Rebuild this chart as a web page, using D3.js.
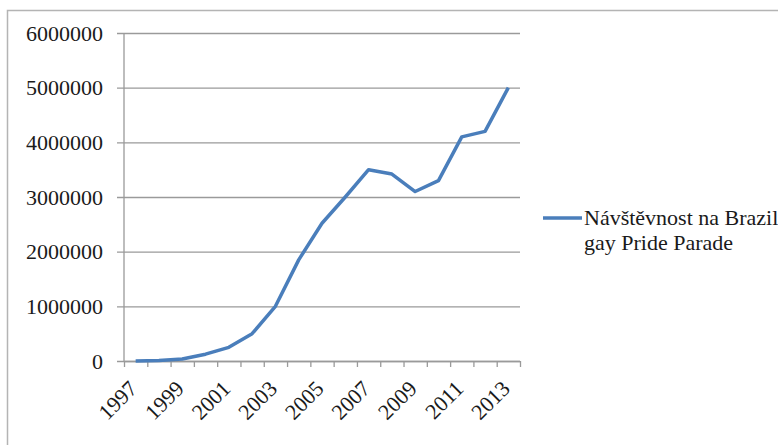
<!DOCTYPE html>
<html>
<head>
<meta charset="utf-8">
<script src="https://cdn.jsdelivr.net/npm/d3@7/dist/d3.min.js"></script>
<style>
  html, body { margin: 0; padding: 0; background: #fff; }
  svg { display: block; }
  text { font-family: "Liberation Serif", "Times New Roman", serif; fill: #1a1a1a; }
</style>
</head>
<body>
<svg id="chart" width="778" height="445"></svg>
<script>
// Attendance at the São Paulo gay pride parade, by year
const years = ["1997","1998","1999","2000","2001","2002","2003","2004","2005",
               "2006","2007","2008","2009","2010","2011","2012","2013"];
const attendance = [2000, 8000, 35000, 125000, 250000, 500000, 1000000, 1850000, 2520000,
                    3000000, 3500000, 3420000, 3100000, 3300000, 4100000, 4200000, 5000000];
const yTicks = [0, 1000000, 2000000, 3000000, 4000000, 5000000, 6000000];
const xLabelYears = ["1997","1999","2001","2003","2005","2007","2009","2011","2013"];
const seriesName = ["Návštěvnost na Brazil", "gay Pride Parade"];

const svg = d3.select("#chart");
const W = 778, H = 445;
const plotLeft = 124, plotRight = 520, plotTop = 33, plotBottom = 361;
const gridColor = "#9a9a9a";
const lineColor = "#4a7ebb";
const fontSize = 22;
const serif = '"Liberation Serif", "Times New Roman", serif';

// chart frame
svg.append("path")
  .attr("d", `M7.5,${H} L7.5,10.5 L${W},10.5`)
  .attr("fill", "none").attr("stroke", "#b4b4b4").attr("stroke-width", 1.5);

const x = d3.scaleBand().domain(years).range([plotLeft, plotRight]).padding(0);
const xIdx = d3.scaleLinear().domain([0, years.length]).range([plotLeft, plotRight]);
const y = d3.scaleLinear().domain([0, 6000000]).range([plotBottom, plotTop]);

// horizontal gridlines + y labels
const yAxis = svg.append("g")
  .attr("transform", `translate(${plotLeft},0)`)
  .call(d3.axisLeft(y).tickValues(yTicks).tickSize(7).tickPadding(0)
        .tickFormat(d3.format("d")));
yAxis.select(".domain").remove();
yAxis.selectAll(".tick line")
  .attr("x1", -7).attr("x2", plotRight - plotLeft)
  .attr("stroke", gridColor).attr("stroke-width", 1.3);
yAxis.selectAll(".tick text")
  .attr("x", -21).attr("dy", "0.33em")
  .attr("font-size", fontSize).attr("text-anchor", "end")
  .style("font-family", serif).attr("fill", "#1a1a1a");

// vertical axis line
svg.append("line")
  .attr("x1", plotLeft).attr("x2", plotLeft).attr("y1", y(6000000)).attr("y2", y(0))
  .attr("stroke", gridColor).attr("stroke-width", 1.3);

// x axis: boundary ticks between categories
const xAxis = svg.append("g")
  .attr("transform", `translate(0,${plotBottom})`)
  .call(d3.axisBottom(xIdx).tickValues(d3.range(0, years.length + 1)).tickSize(6).tickFormat(""));
xAxis.select(".domain").attr("d", `M${plotLeft},0.5H${plotRight}`).attr("stroke", gridColor).attr("stroke-width", 1.3);
xAxis.selectAll(".tick line").attr("stroke", gridColor).attr("stroke-width", 1.3);

// x labels, rotated
const xLab = svg.append("g")
  .attr("transform", `translate(0,${plotBottom})`)
  .call(d3.axisBottom(x).tickValues(xLabelYears).tickSize(0).tickPadding(0));
xLab.select(".domain").remove();
xLab.selectAll(".tick text")
  .attr("font-size", fontSize)
  .style("font-family", serif).attr("fill", "#1a1a1a")
  .attr("text-anchor", "end")
  .attr("y", 0).attr("dy", 0)
  .attr("transform", "translate(3,29) rotate(-45)");

// data line
const line = d3.line()
  .x((d, i) => x(years[i]) + x.bandwidth() / 2)
  .y(d => y(d));
svg.append("path")
  .datum(attendance)
  .attr("d", line)
  .attr("fill", "none")
  .attr("stroke", lineColor)
  .attr("stroke-width", 3.5)
  .attr("stroke-linejoin", "round");

// legend
const lg = svg.append("g");
lg.append("line")
  .attr("x1", 543).attr("x2", 582).attr("y1", 218).attr("y2", 218)
  .attr("stroke", lineColor).attr("stroke-width", 3.5);
lg.selectAll("text.leg")
  .data(seriesName)
  .join("text")
  .attr("class", "leg")
  .attr("x", 584)
  .attr("y", (d, i) => 224.5 + i * 25)
  .attr("font-size", fontSize)
  .text(d => d);
</script>
</body>
</html>
